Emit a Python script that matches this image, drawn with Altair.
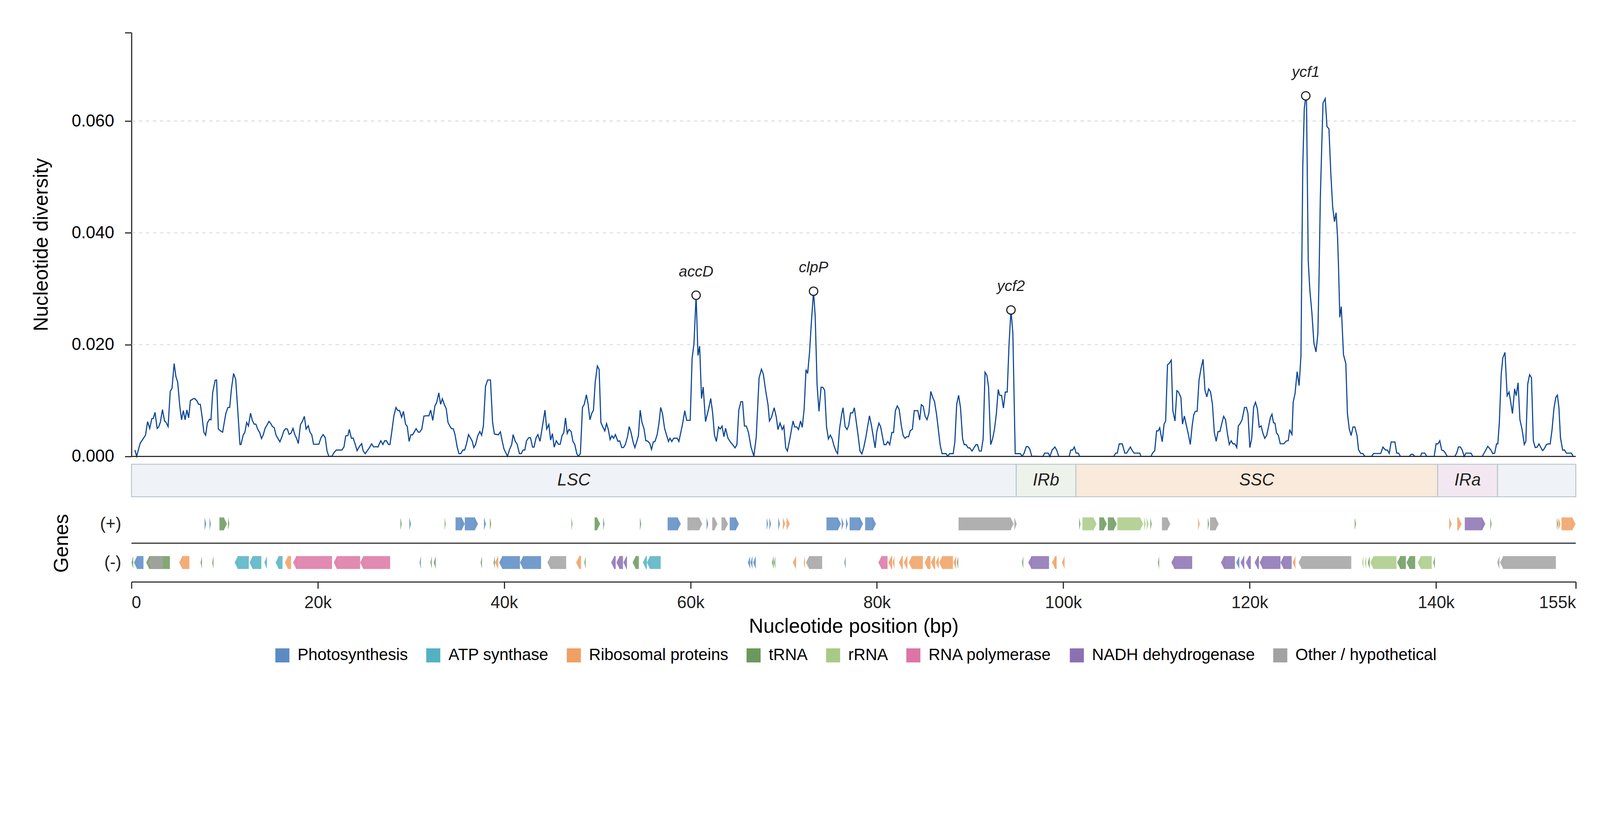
import altair as alt
import pandas as pd

# ---------------- data ----------------
POS_BP = [364,554,933,1503,1731,1959,2186,2338,2528,2756,2908,3098,3326,3554,3705,3933,4161,4351,4579,4768,
4958,5186,5376,5566,5756,5946,6135,6325,6629,6781,7009,7199,7388,7578,7768,7958,8148,8376,8528,8717,
8983,9135,9325,9553,9781,10123,10351,10540,10730,10958,11186,11414,11641,11755,11983,12173,12363,12553,12780,12970,
13160,13350,13540,13768,13958,14148,14337,14527,14755,14945,15135,15325,15515,15742,15932,16160,16350,16540,16729,16919,
17109,17337,17527,17717,17907,18134,18362,18552,18742,18970,19160,19350,19539,19767,20109,20337,20565,20793,20982,21172,
21514,21704,21970,22578,22805,22995,23223,23374,23602,23792,24020,24210,24476,24703,24855,25083,25311,25539,25767,25995,
26261,26451,26753,26981,27171,27361,27589,27741,27930,28158,28386,28576,28766,28994,29184,29412,29602,29792,29982,30171,
30551,30779,30931,31159,31387,31614,31918,32108,32336,32564,32754,32982,33172,33362,33590,33779,33969,34159,34349,34539,
34728,34956,35146,35336,35564,35754,35944,36172,36362,36551,36741,36931,37159,37387,37577,37767,37995,38223,38527,38754,
38944,39134,39362,39590,39780,39969,40159,40349,40577,40805,40957,41185,41375,41641,41831,42021,42210,42400,42628,42818,
43046,43198,43426,43616,43844,44110,44375,44565,44793,44983,45173,45363,45591,45819,46009,46199,46389,46579,46768,46958,
47186,47376,47566,47794,47946,48174,48402,48592,48820,49010,49200,49389,49579,49769,49997,50187,50377,50567,50795,50985,
51175,51365,51555,51744,51934,52200,52390,52618,52808,52997,53225,53415,53605,53833,54023,54213,54403,54593,54782,55010,
55200,55390,55618,55808,55998,56188,56416,56606,56795,56985,57213,
57634,57785,57988,58190,58570,58747,59152,59380,59582,59962,60165,60367,60595,60797,60974,61177,61354,61607,61936,62164,
62367,62569,62771,63000,63176,63379,63581,63759,64012,64265,64518,64771,64973,65176,65404,65581,65784,65986,66214,66492,
66796,67049,67353,67606,67808,68061,68314,68466,68694,68972,69200,69378,69605,69833,70010,70213,70390,70643,70998,71175,
71402,71580,71807,71984,72187,72389,72566,72769,72971,73199,73376,73579,73781,74009,74187,74389,74592,74794,74997,75199,
75401,75604,75781,75984,76212,76363,76591,76793,76970,77173,77401,77578,77806,77983,78185,78388,78591,78818,78996,79198,
79400,79603,79805,79983,80210,80388,80590,80767,80970,81172,81374,81602,81780,81982,82184,82387,82614,82817,83019,83196,
83399,83576,83804,84007,84386,84589,84766,84968,85171,85373,85576,85778,85981,86183,86411,86588,86791,86993,87423,87600,
87803,88183,88360,88563,88765,88968,89196,89373,89576,89778,89956,90209,90411,90639,90791,90994,91196,91399,91601,91804,
91981,92209,92411,92614,92816,93019,93171,93373,93576,93778,93981,94183,94384,94587,94840,95144,95397,95574,95776,96030,
96207,96409,96612,
97810,98000,98380,98570,98797,99101,99291,99519,100620,100810,100999,101189,101379,101607,101759,105404,
105629,105800,106000,106332,106600,106800,107000,107202,107403,107604,108206,108340,109411,109578,109813,110014,110181,110348,110616,110817,
110984,111185,111352,111587,111754,111988,112189,112357,112624,112792,112993,113193,113428,113629,113830,113997,114164,114365,114566,114767,
115001,115202,115402,115603,115804,116005,116206,116407,116607,116808,117009,117210,117411,117611,117812,118013,118214,118415,118616,118783,
118983,119184,119452,119653,119820,120021,120222,120423,120624,120824,121025,121226,121427,121628,121829,122029,122230,122397,
122555,122714,122886,123085,123283,123680,123905,124143,124302,124408,124540,124672,124871,125096,125307,125506,125598,125704,125863,126022,
126101,126286,126458,126683,126895,127120,127318,127450,127583,127742,127874,128112,128297,128509,128707,128906,129104,129276,129435,129541,
129673,129832,130070,130321,130493,130692,130890,131089,131287,131525,131684,131922,132147,132372,133073,133298,134065,134303,
134580,134780,134982,135183,135585,135785,135985,136187,137124,137325,137525,137727,138330,138463,138798,139000,139803,140004,140205,140405,
140606,140807,141008,141209,142012,142213,142414,142615,142815,143016,143217,143752,143953,144957,145158,145558,145893,146094,146295,146496,
146630,146797,146998,147165,147400,147634,147835,148002,148203,148437,148605,148805,149006,149240,149474,149641,149842,150043,150244,150444,
150645,150846,151047,151248,151448,151649,151850,152051,152252,152453,152653,152854,153021,153188,153355,153589,153790,153991,154526,154727]

PI_X1000 = [1.15,0.04,2.36,3.80,6.23,5.02,6.78,6.78,7.89,5.02,5.24,6.12,8.38,6.34,6.12,5.35,11.65,12.20,16.62,14.30,
13.30,9.00,6.56,8.22,6.56,8.33,6.90,9.99,10.32,10.36,9.99,9.33,9.33,7.12,4.35,3.80,6.01,6.67,6.56,11.43,
13.64,13.68,4.91,4.57,4.35,7.67,8.77,8.77,12.09,14.85,13.75,8.11,2.14,2.14,3.80,4.35,6.08,5.46,7.74,6.45,
5.79,5.79,4.91,4.24,3.20,3.91,5.02,5.57,6.28,5.90,5.35,5.13,3.80,3.14,2.63,3.58,4.57,4.97,4.91,3.96,
4.13,5.02,3.91,3.25,2.32,5.68,6.34,7.18,4.91,5.50,4.35,3.87,2.19,2.19,2.19,3.36,3.91,3.36,1.04,0.04,
0.04,0.60,1.15,1.15,1.70,3.69,3.73,4.84,3.25,3.29,2.14,1.04,1.81,2.30,1.04,0.49,1.04,1.59,2.25,1.70,
1.75,1.70,2.81,2.14,2.81,2.81,2.14,2.14,4.35,7.23,8.77,8.22,8.22,7.01,8.07,5.79,5.35,2.70,3.87,3.87,
4.97,4.35,4.35,4.91,7.23,7.27,7.27,8.29,6.45,9.04,9.66,11.38,9.33,10.32,9.22,8.55,6.08,5.46,4.97,4.97,
3.87,1.66,0.49,0.49,1.15,1.15,2.19,3.91,3.36,2.81,1.59,2.14,3.69,4.46,3.80,5.50,12.53,13.68,13.68,6.12,
4.02,3.96,3.87,4.40,2.81,1.37,0.71,0.04,1.26,2.14,3.91,2.70,2.25,0.49,0.49,1.15,1.15,2.81,3.36,3.36,
1.66,1.66,3.36,3.91,2.70,5.46,8.29,4.91,5.72,2.92,4.09,1.66,2.81,2.19,2.19,3.69,4.24,6.90,4.13,4.84,
4.46,2.70,2.19,0.49,0.04,0.49,8.77,9.33,11.03,9.33,6.56,7.67,8.29,13.30,16.18,15.58,6.08,5.35,4.57,5.90,
4.80,3.03,3.69,3.25,3.91,2.70,2.81,1.59,1.59,2.14,3.47,5.35,4.35,2.59,1.59,2.59,3.69,8.29,6.12,4.91,
2.81,2.76,2.36,1.26,2.59,2.70,3.91,5.90,8.77,7.67,5.02,
2.68,3.26,2.68,3.26,3.26,2.68,5.90,8.19,6.47,6.47,17.48,20.23,28.84,18.05,19.73,10.37,12.43,6.24,8.53,10.37,
7.85,3.83,2.68,5.28,4.91,5.44,3.53,5.05,3.26,2.62,2.11,1.54,2.11,8.30,9.80,9.80,5.44,5.44,4.29,1.65,
0.05,3.49,14.04,15.60,14.73,11.75,9.22,6.35,7.04,8.72,7.04,4.82,5.96,4.82,5.44,1.54,0.96,3.03,6.35,5.28,
5.28,4.82,6.35,5.21,8.42,15.53,14.84,18.63,24.13,29.55,25.05,12.78,8.07,12.39,12.39,11.86,5.32,3.14,3.83,3.14,
1.88,0.96,0.50,4.86,7.50,8.72,5.32,4.82,5.55,7.80,7.80,8.72,5.90,3.72,0.96,0.46,1.65,3.49,5.28,7.27,
5.67,3.60,1.54,4.40,5.96,5.37,3.60,2.11,2.11,2.68,2.11,4.29,4.29,8.19,9.04,8.42,5.55,3.72,3.26,3.53,
3.53,4.63,4.86,8.19,8.19,6.51,9.27,8.99,7.20,6.58,7.73,11.63,10.60,9.80,7.39,4.86,2.00,0.50,0.50,0.05,
0.50,0.50,2.57,9.34,10.94,8.76,3.14,2.11,2.11,1.54,1.54,0.96,1.54,2.11,2.11,0.96,0.96,3.14,15.07,14.50,
12.43,2.11,3.14,4.86,7.62,11.97,10.94,10.94,8.65,11.52,11.52,20.23,26.20,22.07,0.50,0.50,0.50,0.05,0.50,1.77,
1.77,1.31,0.05,
0.0,0.60,0.60,0.0,1.15,1.70,1.15,0.0,0.0,1.15,1.15,1.70,0.60,0.60,0.0,0.0,
0.60,0.60,2.25,2.25,0.60,0.60,1.15,1.70,1.04,0.60,0.60,0.0,0.0,0.60,1.04,4.57,4.57,5.13,2.63,5.79,
6.34,16.40,16.62,17.22,8.22,6.34,11.76,11.54,10.54,5.79,7.23,5.68,3.91,2.14,5.46,7.45,8.07,8.07,13.64,15.62,
17.39,11.87,10.65,12.09,11.54,9.33,4.35,2.70,4.46,4.46,5.90,7.18,6.56,4.13,2.14,2.81,2.25,2.25,1.59,5.46,
5.90,6.56,8.77,8.77,7.67,1.59,3.25,8.77,9.70,8.55,5.24,5.46,4.13,3.25,3.80,5.35,7.01,7.56,
6.05,5.96,4.21,3.75,2.28,2.28,2.74,2.83,4.81,4.35,3.93,9.74,11.25,15.16,12.68,18.02,34.6,52.1,62.2,64.5,
63.5,35.0,29.8,25.6,20.3,18.7,21.9,32.3,46.1,55.8,63.2,64.0,59.0,58.6,50.7,44.7,42.0,43.6,39.2,33.7,
24.9,26.8,18.2,16.6,7.66,4.90,3.75,5.27,5.27,3.75,1.22,0.53,0.53,0.0,0.0,0.53,0.53,1.68,
1.15,1.15,0.55,2.59,2.59,0.60,0.60,0.0,0.0,0.38,0.38,0.0,0.0,0.60,0.60,0.0,0.0,2.25,2.25,2.81,
1.15,1.04,0.60,0.0,0.0,0.60,1.70,1.70,1.15,0.0,0.60,0.60,0.0,0.0,0.60,1.81,1.15,0.49,0.60,2.25,
2.25,6.12,14.74,17.61,18.61,10.87,11.54,9.88,7.67,12.09,10.87,13.19,6.56,4.80,2.14,2.70,12.97,14.63,14.08,2.81,
1.59,1.66,2.25,1.59,1.04,1.48,2.14,2.25,2.25,4.80,8.55,10.54,10.98,8.77,3.36,1.15,1.15,0.60,0.60,0.0]

PEAK_GENES = ["accD", "clpP", "ycf2", "ycf1"]
PEAK_POS_BP = [60595, 73199, 94384, 126022]

GRID_Y = [0.02, 0.04, 0.06]
Y_TICKS = [0.0, 0.02, 0.04, 0.06, 0.0758]
Y_MAX = 0.0758
GENOME_LEN = 155000
X_TICKS = [0, 20000, 40000, 60000, 80000, 100000, 120000, 140000, 155000]

REGION_NAMES = ["LSC", "IRb", "SSC", "IRa", "LSC2"]
REGION_LABELS = ["LSC", "IRb", "SSC", "IRa", ""]
REGION_START = [0, 94950, 101350, 140180, 146600]
REGION_END = [94950, 101350, 140180, 146600, 155000]
REGION_FILLS = ["#eff3f7", "#edf3eb", "#f9eadb", "#f3e8f1", "#eff3f7"]

CATEGORIES = ["Photosynthesis", "ATP synthase", "Ribosomal proteins", "tRNA", "rRNA",
              "RNA polymerase", "NADH dehydrogenase", "Other / hypothetical"]
CAT_COLORS = ["#5b8bc3", "#53b1c4", "#f0a062", "#6b995d", "#a9ca86", "#dc75a5", "#8b71b3", "#a2a2a2"]
CAT_CODE = {"PS": 0, "ATP": 1, "RIB": 2, "TR": 3, "RR": 4, "POL": 5, "NAD": 6, "OTH": 7}

PLUS_START = [7880,8411,9439,10396,28896,29853,33645,34779,35772,37863,38501,47254,49700,50657,54597,57538,59665,61756,62323,63315,
64201,68206,68490,69446,69942,70332,74585,76251,76712,77066,78732,88761,94786,101734,102053,103860,104781,105802,108714,108982,
109383,110588,114504,115541,115742,131306,141447,142284,143087,145865,153000,153163,153464]
PLUS_END = [8022,8518,10254,10503,29002,29995,33716,35772,37189,38041,38607,47325,50302,50763,54703,58956,61260,61898,62890,64024,
65194,68313,68631,69588,70155,70651,76145,76428,76889,78519,79901,94680,95000,101840,103577,104675,105738,108580,108848,109149,
109483,111492,114638,115642,116680,131406,141681,142753,145296,145965,153096,153364,154970]
PLUS_CAT = ["PS","PS","TR","TR","TR","PS","TR","PS","PS","PS","TR","TR","TR","TR","TR","PS","OTH","PS","OTH","OTH",
"PS","PS","PS","PS","RIB","RIB","PS","PS","PS","PS","PS","OTH","OTH","TR","RR","TR","TR","RR","RR","RR",
"TR","OTH","RIB","TR","OTH","TR","RIB","RIB","NAD","TR","TR","RIB","RIB"]

MINUS_START = [12,260,1572,1784,5116,7419,8660,11070,12664,14259,15464,16456,17342,21702,24537,30916,32086,32440,37472,38855,
38996,39458,41690,44631,47715,48601,51471,52038,52782,53775,54880,55306,66150,66434,66718,68738,68950,70970,72140,72388,
76498,80149,81212,81673,82347,82878,83410,85111,85785,86316,86671,88195,88584,95566,96239,98791,99854,110153,111592,116914,
118554,119022,119592,120529,121064,123306,124612,125248,132076,132344,132678,132946,135824,136829,138033,139707,146569,146870]
MINUS_END = [154,1288,4123,3379,6214,7526,8766,12594,13940,14507,16208,17130,21524,24537,27762,31022,32192,32617,37579,38961,
39351,41690,43958,46651,48246,48707,51967,52747,53172,54455,55306,56794,66363,66611,66966,68879,69056,71325,72246,74124,
76605,81141,81637,81850,82773,83268,84934,85749,86246,86600,88160,88478,88691,95672,98472,99287,100102,110253,113835,118420,
118855,119424,120127,121000,123306,124511,124880,130904,132177,132477,132846,135757,136762,137766,139539,139841,146770,152861]
MINUS_CAT = ["TR","PS","TR","OTH","RIB","TR","TR","ATP","ATP","ATP","ATP","RIB","POL","POL","POL","PS","TR","TR","TR","TR",
"RIB","PS","PS","OTH","RIB","TR","NAD","NAD","NAD","TR","ATP","ATP","PS","PS","PS","TR","TR","RIB","RIB","OTH",
"PS","POL","RIB","RIB","RIB","RIB","RIB","RIB","RIB","RIB","RIB","RIB","TR","TR","NAD","RIB","RIB","TR","NAD","NAD",
"PS","NAD","NAD","NAD","NAD","NAD","RIB","OTH","RR","RR","TR","RR","TR","TR","RR","TR","OTH","OTH"]

# ---------------- style ----------------
FONT = "Liberation Sans"
INK = "#222222"
LINE_COLOR = "#0b4596"
PLOT_W = 3905
TOP_H = 1146
BAND_H = 88
GENE_H = 209
TIP_BP = 320          # arrow head length in bp (about 8 px)
TIP_UNITS = 0.46      # arrow head length in symbol units (1 unit = 17.5 px)
GENE_HALF = 0.1675    # half height of a gene arrow in y units
SYMBOL_SIZE = 1225    # 35 px symbol box -> 1 unit = 17.5 px

xscale = alt.Scale(domain=[0, GENOME_LEN], nice=False, zero=False)

# ---------------- top panel ----------------
div = pd.DataFrame({"pos": POS_BP, "pi": [v / 1000.0 for v in PI_X1000]})
lookup = dict(zip(div["pos"], div["pi"]))
peaks = pd.DataFrame({"pos": PEAK_POS_BP, "pi": [lookup[p] for p in PEAK_POS_BP], "gene": PEAK_GENES})
grid = pd.DataFrame({"pi": GRID_Y})
base0 = pd.DataFrame({"pi": [0.0]})

yscale = alt.Scale(domain=[0, Y_MAX], nice=False, zero=True)
yaxis = alt.Axis(title="Nucleotide diversity", values=Y_TICKS, format=".3f",
                 labelExpr="datum.value > 0.07 ? '' : datum.label",
                 grid=False, tickSize=18, tickWidth=3, tickColor=INK,
                 domainColor=INK, domainWidth=3, labelFontSize=46, labelColor="#000",
                 labelPadding=29, titleFontSize=54, titleFontWeight="normal",
                 titleColor="#000", titlePadding=54)

grid_layer = alt.Chart(grid).mark_rule(color="#d5dbe1", strokeWidth=2.5, strokeDash=[9, 10]).encode(
    y=alt.Y("pi:Q", scale=yscale, axis=yaxis))
base_layer = alt.Chart(base0).mark_rule(color=INK, strokeWidth=3).encode(
    y=alt.Y("pi:Q", scale=yscale, axis=yaxis))
line_layer = alt.Chart(div).mark_line(color=LINE_COLOR, strokeWidth=3).encode(
    x=alt.X("pos:Q", scale=xscale, axis=None),
    y=alt.Y("pi:Q", scale=yscale, axis=yaxis))
peak_pts = alt.Chart(peaks).mark_point(shape="circle", size=520, filled=False, fill="white",
                                       fillOpacity=1, stroke=INK, strokeWidth=3, opacity=1).encode(
    x=alt.X("pos:Q", scale=xscale, axis=None),
    y=alt.Y("pi:Q", scale=yscale, axis=yaxis))
peak_txt = alt.Chart(peaks).mark_text(dy=-63, fontStyle="italic", fontSize=41, font=FONT,
                                      color=INK, baseline="middle").encode(
    x=alt.X("pos:Q", scale=xscale, axis=None),
    y=alt.Y("pi:Q", scale=yscale, axis=yaxis),
    text="gene:N")
top = alt.layer(grid_layer, line_layer, base_layer, peak_pts, peak_txt).properties(width=PLOT_W, height=TOP_H)

# ---------------- region band ----------------
reg = pd.DataFrame({"name": REGION_NAMES, "label": REGION_LABELS,
                    "start": REGION_START, "end": REGION_END})
reg["mid"] = (reg["start"] + reg["end"]) / 2
band_rect = alt.Chart(reg).mark_rect(stroke="#b8c3cb", strokeWidth=2.5).encode(
    x=alt.X("start:Q", scale=xscale, axis=None),
    x2="end:Q",
    fill=alt.Fill("name:N", scale=alt.Scale(domain=REGION_NAMES, range=REGION_FILLS), legend=None))
band_txt = alt.Chart(reg).mark_text(fontStyle="italic", fontSize=46, font=FONT, color=INK,
                                    baseline="middle").encode(
    x=alt.X("mid:Q", scale=xscale, axis=None), text="label:N")
band = alt.layer(band_rect, band_txt).properties(width=PLOT_W, height=BAND_H)

# ---------------- genes ----------------
rows = []
for s, e, c in zip(PLUS_START, PLUS_END, PLUS_CAT):
    tip_x = max(s, e - TIP_BP)
    w = min(e - s, TIP_BP) / TIP_BP * TIP_UNITS
    rows.append(dict(start=s, end=e, rx=s, rx2=tip_x, tip=tip_x, yc=0.5,
                     path="M-0.05,-1L%.3f,0L-0.05,1Z" % w, cat=CATEGORIES[CAT_CODE[c]]))
for s, e, c in zip(MINUS_START, MINUS_END, MINUS_CAT):
    tip_x = min(e, s + TIP_BP)
    w = min(e - s, TIP_BP) / TIP_BP * TIP_UNITS
    rows.append(dict(start=s, end=e, rx=tip_x, rx2=e, tip=tip_x, yc=-0.5,
                     path="M0.05,-1L%.3f,0L0.05,1Z" % (-w), cat=CATEGORIES[CAT_CODE[c]]))
genes = pd.DataFrame(rows)
genes["y0"] = genes["yc"] - GENE_HALF
genes["y1"] = genes["yc"] + GENE_HALF

gscale = alt.Scale(domain=[-1, 1], nice=False, zero=False)
gaxis = alt.Axis(title="Genes", values=[0.5, -0.5],
                 labelExpr="datum.value > 0 ? '(+)' : '(-)'",
                 ticks=False, domain=False, grid=False, labelFontSize=46, labelColor=INK,
                 labelPadding=28, titleFontSize=54, titleFontWeight="normal", titleColor="#000",
                 titlePadding=76)
xaxis_bottom = alt.Axis(title="Nucleotide position (bp)", values=X_TICKS,
                        labelExpr="datum.value == 0 ? '0' : format(datum.value / 1000, 'd') + 'k'",
                        grid=False, tickSize=18, tickWidth=3, tickColor=INK, domainColor=INK,
                        domainWidth=3, labelFontSize=46, labelColor=INK, labelPadding=17,
                        titleFontSize=54, titleFontWeight="normal", titleColor="#000",
                        titlePadding=14)
color_scale = alt.Scale(domain=CATEGORIES, range=CAT_COLORS)
legend = alt.Legend(title=None, orient="none", legendX=386, legendY=1662, direction="horizontal",
                    columns=8, symbolType="square", symbolSize=1444, symbolOpacity=1,
                    symbolStrokeWidth=0, labelFontSize=44, labelColor="#000", labelFont=FONT,
                    columnPadding=46, labelOffset=19, labelLimit=1000)

sep = alt.Chart(pd.DataFrame({"y0": [0.0]})).mark_rule(color="#333333", strokeWidth=3).encode(
    y=alt.Y("y0:Q", scale=gscale, axis=gaxis))
gene_rect = alt.Chart(genes).mark_rect(opacity=0.85, strokeWidth=0).encode(
    x=alt.X("rx:Q", scale=xscale, axis=xaxis_bottom),
    x2="rx2:Q",
    y=alt.Y("y0:Q", scale=gscale, axis=gaxis),
    y2="y1:Q",
    color=alt.Color("cat:N", scale=color_scale, legend=legend))
gene_tip = alt.Chart(genes).mark_point(filled=True, opacity=0.85, strokeWidth=0, size=SYMBOL_SIZE).encode(
    x=alt.X("tip:Q", scale=xscale, axis=xaxis_bottom),
    y=alt.Y("yc:Q", scale=gscale, axis=gaxis),
    shape=alt.Shape("path:N", scale=None),
    color=alt.Color("cat:N", scale=color_scale, legend=legend))
gene_chart = alt.layer(sep, gene_rect, gene_tip).properties(width=PLOT_W, height=GENE_H)

chart = alt.vconcat(top, band, gene_chart, spacing=21, bounds="flush").properties(
    padding={"left": 76, "top": 28, "right": 55, "bottom": 40}
).configure(font=FONT).configure_view(stroke=None)

chart.save("out.html", embed_options={"renderer": "svg", "actions": False})
